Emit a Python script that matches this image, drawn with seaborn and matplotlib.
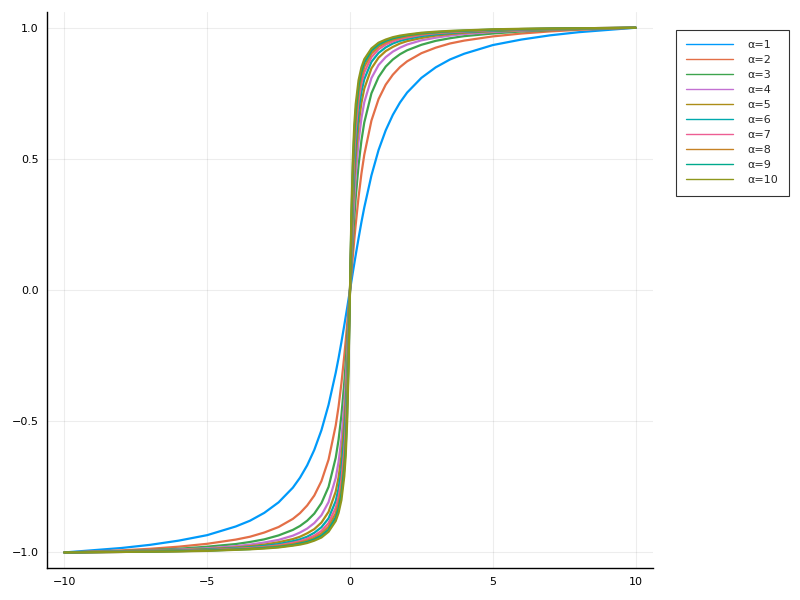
import numpy as np
import pandas as pd
import matplotlib
matplotlib.use('Agg')
import matplotlib.pyplot as plt
import seaborn as sns

# x positions (shared by every curve)
x = [-10, -8, -7, -6, -5, -4, -3.5, -3, -2.5, -2, -1.75, -1.5, -1.25, -1, -0.75, -0.5, -0.4, -0.3, -0.2, -0.15, -0.1, -0.05,
     0,
     0.05, 0.1, 0.15, 0.2, 0.3, 0.4, 0.5, 0.75, 1, 1.25, 1.5, 1.75, 2, 2.5, 3, 3.5, 4, 5, 6, 7, 8, 10]

# curve values, one list per alpha
a1 = [-1.000, -0.983, -0.971, -0.955, -0.934, -0.901, -0.879, -0.849, -0.809, -0.753, -0.715, -0.668, -0.609, -0.534, -0.437, -0.315, -0.259, -0.198, -0.134, -0.101, -0.068, -0.034,
      0.0,
      0.034, 0.068, 0.101, 0.134, 0.198, 0.259, 0.315, 0.437, 0.534, 0.609, 0.668, 0.715, 0.753, 0.809, 0.849, 0.879, 0.901, 0.934, 0.955, 0.971, 0.983, 1.000]
a2 = [-1.000, -0.992, -0.986, -0.978, -0.967, -0.951, -0.940, -0.924, -0.903, -0.872, -0.850, -0.821, -0.783, -0.728, -0.646, -0.516, -0.444, -0.355, -0.250, -0.192, -0.130, -0.066,
      0.0,
      0.066, 0.130, 0.192, 0.250, 0.355, 0.444, 0.516, 0.646, 0.728, 0.783, 0.821, 0.850, 0.872, 0.903, 0.924, 0.940, 0.951, 0.967, 0.978, 0.986, 0.992, 1.000]
a3 = [-1.000, -0.995, -0.991, -0.986, -0.978, -0.968, -0.960, -0.950, -0.935, -0.914, -0.899, -0.879, -0.852, -0.812, -0.750, -0.639, -0.570, -0.477, -0.352, -0.275, -0.190, -0.097,
      0.0,
      0.097, 0.190, 0.275, 0.352, 0.477, 0.570, 0.639, 0.750, 0.812, 0.852, 0.879, 0.899, 0.914, 0.935, 0.950, 0.960, 0.968, 0.978, 0.986, 0.991, 0.995, 1.000]
a4 = [-1.000, -0.996, -0.993, -0.989, -0.984, -0.976, -0.970, -0.962, -0.952, -0.936, -0.924, -0.909, -0.888, -0.858, -0.808, -0.716, -0.655, -0.567, -0.437, -0.350, -0.246, -0.128,
      0.0,
      0.128, 0.246, 0.350, 0.437, 0.567, 0.655, 0.716, 0.808, 0.858, 0.888, 0.909, 0.924, 0.936, 0.952, 0.962, 0.970, 0.976, 0.984, 0.989, 0.993, 0.996, 1.000]
a5 = [-1.000, -0.997, -0.994, -0.991, -0.987, -0.981, -0.976, -0.970, -0.961, -0.949, -0.940, -0.927, -0.911, -0.886, -0.845, -0.768, -0.714, -0.634, -0.506, -0.415, -0.299, -0.158,
      0.0,
      0.158, 0.299, 0.415, 0.506, 0.634, 0.714, 0.768, 0.845, 0.886, 0.911, 0.927, 0.940, 0.949, 0.961, 0.970, 0.976, 0.981, 0.987, 0.991, 0.994, 0.997, 1.000]
a6 = [-1.000, -0.997, -0.995, -0.993, -0.989, -0.984, -0.980, -0.975, -0.968, -0.957, -0.950, -0.940, -0.925, -0.904, -0.870, -0.804, -0.757, -0.684, -0.564, -0.472, -0.348, -0.188,
      0.0,
      0.188, 0.348, 0.472, 0.564, 0.684, 0.757, 0.804, 0.870, 0.904, 0.925, 0.940, 0.950, 0.957, 0.968, 0.975, 0.980, 0.984, 0.989, 0.993, 0.995, 0.997, 1.000]
a7 = [-1.000, -0.998, -0.996, -0.994, -0.991, -0.986, -0.983, -0.979, -0.973, -0.963, -0.957, -0.948, -0.936, -0.918, -0.888, -0.830, -0.789, -0.724, -0.611, -0.520, -0.392, -0.216,
      0.0,
      0.216, 0.392, 0.520, 0.611, 0.724, 0.789, 0.830, 0.888, 0.918, 0.936, 0.948, 0.957, 0.963, 0.973, 0.979, 0.983, 0.986, 0.991, 0.994, 0.996, 0.998, 1.000]
a8 = [-1.000, -0.998, -0.997, -0.995, -0.992, -0.988, -0.985, -0.981, -0.976, -0.968, -0.962, -0.955, -0.944, -0.928, -0.902, -0.851, -0.814, -0.755, -0.650, -0.562, -0.433, -0.244,
      0.0,
      0.244, 0.433, 0.562, 0.650, 0.755, 0.814, 0.851, 0.902, 0.928, 0.944, 0.955, 0.962, 0.968, 0.976, 0.981, 0.985, 0.988, 0.992, 0.995, 0.997, 0.998, 1.000]
a9 = [-1.000, -0.998, -0.997, -0.995, -0.993, -0.989, -0.987, -0.983, -0.979, -0.972, -0.966, -0.960, -0.950, -0.936, -0.913, -0.867, -0.833, -0.780, -0.682, -0.598, -0.470, -0.271,
      0.0,
      0.271, 0.470, 0.598, 0.682, 0.780, 0.833, 0.867, 0.913, 0.936, 0.950, 0.960, 0.966, 0.972, 0.979, 0.983, 0.987, 0.989, 0.993, 0.995, 0.997, 0.998, 1.000]
a10 = [-1.000, -0.998, -0.997, -0.996, -0.994, -0.990, -0.988, -0.985, -0.981, -0.974, -0.970, -0.964, -0.955, -0.943, -0.921, -0.880, -0.849, -0.800, -0.709, -0.630, -0.503, -0.297,
       0.0,
       0.297, 0.503, 0.630, 0.709, 0.800, 0.849, 0.880, 0.921, 0.943, 0.955, 0.964, 0.970, 0.974, 0.981, 0.985, 0.988, 0.990, 0.994, 0.996, 0.997, 0.998, 1.000]

labels = ['α=1', 'α=2', 'α=3', 'α=4', 'α=5', 'α=6', 'α=7', 'α=8', 'α=9', 'α=10']
series = [a1, a2, a3, a4, a5, a6, a7, a8, a9, a10]

# Plots.jl default palette
colors = ['#009AFA', '#E36F47', '#3EA44E', '#C371D2', '#AC8D18',
          '#00A9AD', '#ED5E93', '#C68225', '#00A98D', '#8E971D']

# long-form table for seaborn
df = pd.DataFrame({
    'x': np.tile(x, len(series)),
    'y': np.concatenate(series),
    'alpha': np.repeat(labels, len(x)),
})

sns.set_style('white')
plt.rcParams['font.family'] = ['DejaVu Sans']

fig = plt.figure(figsize=(8, 6), dpi=100)
ax = fig.add_axes([0.059, 0.053, 0.757, 0.927])

sns.lineplot(data=df, x='x', y='y', hue='alpha', hue_order=labels,
             palette=colors, linewidth=1.6, sort=False, estimator=None, ax=ax)

ax.set_xlim(-10.6, 10.6)
ax.set_ylim(-1.06, 1.06)
ax.set_xticks([-10, -5, 0, 5, 10])
ax.set_yticks([-1.0, -0.5, 0.0, 0.5, 1.0])
ax.set_xticklabels(['\u221210', '\u22125', '0', '5', '10'])
ax.set_yticklabels(['\u22121.0', '\u22120.5', '0.0', '0.5', '1.0'])
ax.set_xlabel('')
ax.set_ylabel('')
ax.grid(True, color='#000000', alpha=0.07, linewidth=0.8)
ax.tick_params(direction='in', length=4, width=1, labelsize=8, colors='#000000', pad=6)

for side in ['top', 'right']:
    ax.spines[side].set_visible(False)
for side in ['left', 'bottom']:
    ax.spines[side].set_color('#000000')
    ax.spines[side].set_linewidth(1)

leg = ax.legend(loc='upper left', bbox_to_anchor=(1.038, 0.968), frameon=True,
                fancybox=False, edgecolor='#000000', fontsize=8,
                handlelength=4.2, handletextpad=1.3, labelspacing=0.45,
                borderpad=0.95, borderaxespad=0)
leg.get_frame().set_linewidth(0.8)
for line in leg.get_lines():
    line.set_linewidth(1)

fig.savefig('out.png', dpi=100)
